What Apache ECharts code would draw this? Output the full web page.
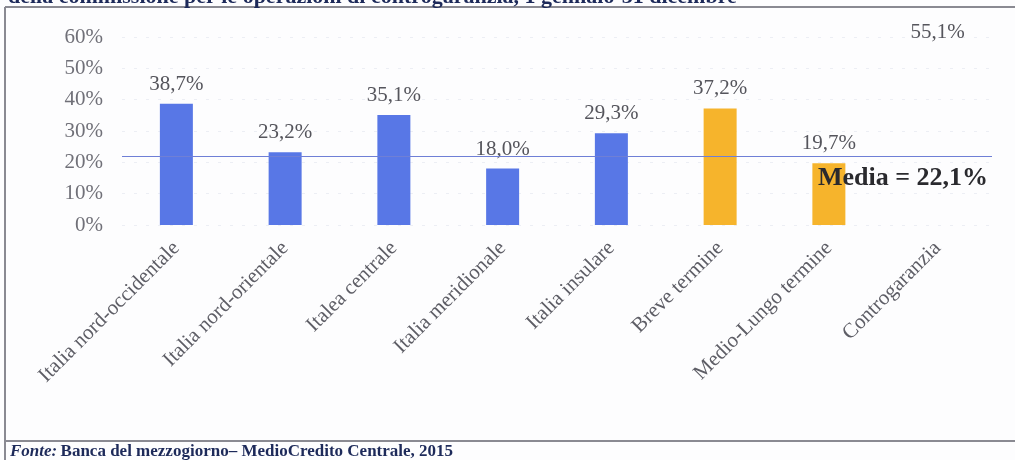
<!DOCTYPE html>
<html>
<head>
<meta charset="utf-8">
<script src="https://cdn.jsdelivr.net/npm/echarts@6/dist/echarts.min.js"></script>
<style>
  html, body { margin: 0; padding: 0; background: #fdfdfe; }
  #chart { width: 1015px; height: 460px; }
</style>
</head>
<body>
<div id="chart"></div>
<script>
// Commissioni medie per area geografica e durata
const categories = [
  'Italia nord-occidentale', 'Italia nord-orientale', 'Italea centrale',
  'Italia meridionale', 'Italia insulare', 'Breve termine',
  'Medio-Lungo termine', 'Controgaranzia'
];
const values = [38.7, 23.2, 35.1, 18.0, 29.3, 37.2, 19.7, 55.1];
// area geografica = blu, durata = arancio, controgaranzia senza riempimento
const groups = ['area', 'area', 'area', 'area', 'area', 'durata', 'durata', 'contro'];
const mediaValue = 22.1;
const yTicks = [0, 10, 20, 30, 40, 50, 60];

const groupColors = { area: '#5877e6', durata: '#f6b42c', contro: 'rgba(255,255,255,0)' };
const fmt = v => v.toFixed(1).replace('.', ',') + '%';
const serif = '"Liberation Serif", "DejaVu Serif", serif';

const chart = echarts.init(document.getElementById('chart'));
chart.setOption({
  backgroundColor: '#fdfdfe',
  animation: false,
  grid: { left: 122, right: 23, top: 37, height: 188 },
  xAxis: {
    type: 'category',
    data: categories,
    axisLine: { show: false },
    axisTick: { show: false },
    axisLabel: {
      rotate: 45, margin: 20, interval: 0,
      fontFamily: serif, fontSize: 21, color: '#5e5e66'
    }
  },
  yAxis: {
    type: 'value',
    min: yTicks[0], max: yTicks[yTicks.length - 1], interval: 10,
    axisLine: { show: false },
    axisTick: { show: false },
    axisLabel: {
      margin: 19, fontFamily: serif, fontSize: 21, color: '#707078',
      formatter: v => v + '%'
    },
    splitLine: { lineStyle: { color: '#eceef4', type: [3, 9] } }
  },
  series: [{
    type: 'bar',
    barWidth: 33,
    data: values.map((v, i) => ({ value: v, itemStyle: { color: groupColors[groups[i]] } })),
    label: {
      show: true, position: 'top', distance: 9,
      fontFamily: serif, fontSize: 21, color: '#55555c',
      formatter: p => fmt(p.value)
    },
    markLine: {
      symbol: 'none', silent: true,
      lineStyle: { color: '#6f7fd6', width: 1.2, type: 'solid' },
      data: [{ yAxis: mediaValue }],
      label: {
        position: 'insideEndBottom', distance: [4, 10],
        fontFamily: serif, fontSize: 26, fontWeight: 'bold', color: '#2a2a2e',
        formatter: () => 'Media = ' + fmt(mediaValue)
      }
    }
  }],
  graphic: [
    // riquadro
    { type: 'line', shape: { x1: 5, y1: 7, x2: 1015, y2: 7 }, style: { stroke: '#8a8a92', lineWidth: 2 } },
    { type: 'line', shape: { x1: 5, y1: 7, x2: 5, y2: 460 }, style: { stroke: '#8a8a92', lineWidth: 2 } },
    { type: 'line', shape: { x1: 5, y1: 441, x2: 1015, y2: 441 }, style: { stroke: '#8a8a92', lineWidth: 2 } },
    // titolo (parte inferiore visibile)
    {
      type: 'text', left: 8, top: -14,
      style: {
        text: 'della commissione per le operazioni di controgaranzia, 1 gennaio-31 dicembre',
        font: 'bold 22px ' + serif, fill: '#1d2a5a'
      }
    },
    // fonte
    {
      type: 'text', left: 10, top: 443,
      style: {
        text: '{i|Fonte:} {b|Banca del mezzogiorno– MedioCredito Centrale, 2015}',
        rich: {
          i: { font: 'italic bold 17px ' + serif, fill: '#1d2a5a' },
          b: { font: 'bold 17px ' + serif, fill: '#1d2a5a' }
        }
      }
    }
  ]
});
</script>
</body>
</html>
